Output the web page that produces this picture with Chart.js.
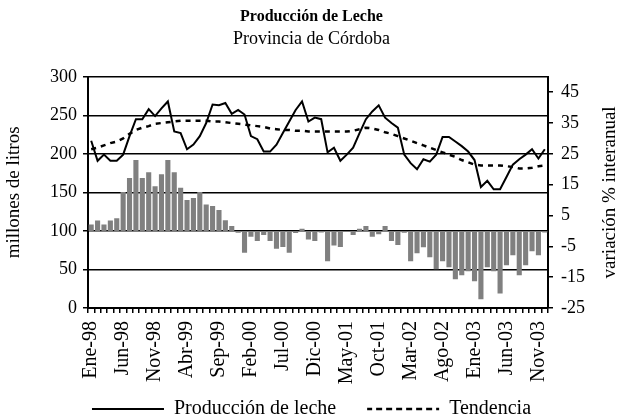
<!DOCTYPE html>
<html>
<head>
<meta charset="utf-8">
<script src="https://cdn.jsdelivr.net/npm/chart.js@4.4.0/dist/chart.umd.min.js"></script>
<style>
  body { margin: 0; background: #fff; }
</style>
</head>
<body>
<canvas id="leche" width="623" height="419"></canvas>
<script>
// meses ene-98 a dic-03
const meses = [
  'Ene-98','Feb-98','Mar-98','Abr-98','May-98','Jun-98','Jul-98','Ago-98','Sep-98','Oct-98','Nov-98','Dic-98',
  'Ene-99','Feb-99','Mar-99','Abr-99','May-99','Jun-99','Jul-99','Ago-99','Sep-99','Oct-99','Nov-99','Dic-99',
  'Ene-00','Feb-00','Mar-00','Abr-00','May-00','Jun-00','Jul-00','Ago-00','Sep-00','Oct-00','Nov-00','Dic-00',
  'Ene-01','Feb-01','Mar-01','Abr-01','May-01','Jun-01','Jul-01','Ago-01','Sep-01','Oct-01','Nov-01','Dic-01',
  'Ene-02','Feb-02','Mar-02','Abr-02','May-02','Jun-02','Jul-02','Ago-02','Sep-02','Oct-02','Nov-02','Dic-02',
  'Ene-03','Feb-03','Mar-03','Abr-03','May-03','Jun-03','Jul-03','Ago-03','Sep-03','Oct-03','Nov-03','Dic-03'
];

// millones de litros
const produccion = [
  217, 191, 199, 191, 191, 199, 223, 245, 245, 258, 249, 259,
  268, 229, 227, 206, 212, 223, 240, 264, 263, 266, 252, 257,
  251, 223, 219, 203, 203, 212, 227, 242, 257, 268, 242, 247,
  245, 202, 208, 191, 199, 208, 227, 245, 255, 263, 247, 240,
  234, 199, 188, 180, 193, 190, 199, 222, 222, 216, 210, 203,
  192, 157, 165, 154, 154, 170, 186, 193, 199, 206, 194, 206
];

const tendencia = [
  206, 208, 211, 214, 216, 220, 226, 231, 234, 236, 239, 240,
  241, 242, 243, 243, 243, 243, 243, 242, 242, 241, 240, 239,
  238, 237, 236, 235, 233, 232, 231, 231, 230, 230, 229, 229,
  229, 229, 229, 229, 229, 230, 232, 234, 233, 231, 228, 226,
  223, 220, 217, 214, 211, 208, 205, 202, 199, 196, 192, 189,
  186, 185, 185, 185, 185, 184, 183, 181, 181, 182, 184, 185
];

// variacion % interanual
const variacion = [
  2.1, 3.4, 2.1, 3.4, 4.1, 12.6, 17.2, 23.0, 17.2, 19.0, 14.5, 18.4,
  23.0, 19.0, 14.0, 10.0, 10.7, 12.6, 8.6, 8.1, 6.8, 3.5, 1.6, -0.6,
  -7.1, -1.9, -3.3, -1.3, -3.3, -5.8, -5.2, -7.1, -0.7, 0.7, -2.8, -3.3,
  -0.5, -9.8, -4.7, -5.2, -0.3, -1.3, 0.7, 1.6, -1.9, -1.1, 1.6, -3.3,
  -4.6, -0.6, -9.8, -7.2, -5.3, -8.5, -12.4, -9.8, -11.8, -15.7, -14.4, -13.1,
  -16.3, -22.2, -11.8, -13.1, -20.3, -11.1, -7.9, -14.4, -11.1, -6.6, -7.9, -0.5
];

const ticksDerecha = [-25, -15, -5, 5, 15, 25, 35, 45];

const serif = "'Liberation Serif', 'Times New Roman', serif";
Chart.defaults.font.family = serif;
Chart.defaults.color = '#000';

const tituloDerecho = {
  id: 'tituloDerecho',
  afterDraw(chart) {
    const ctx = chart.ctx;
    const area = chart.chartArea;
    ctx.save();
    ctx.translate(chart.width - 13, (area.top + area.bottom) / 2);
    ctx.rotate(-Math.PI / 2);
    ctx.font = '19px ' + serif;
    ctx.fillStyle = '#000';
    ctx.textAlign = 'center';
    ctx.textBaseline = 'middle';
    ctx.fillText('variación % interanual', 0, 0);
    ctx.restore();
  }
};

new Chart(document.getElementById('leche'), {
  type: 'bar',
  data: {
    labels: meses,
    datasets: [
      {
        type: 'line',
        label: 'Producción de leche',
        data: produccion,
        yAxisID: 'y',
        borderColor: '#000',
        backgroundColor: 'rgba(0,0,0,0)',
        borderWidth: 2,
        pointRadius: 0,
        tension: 0,
        order: 0
      },
      {
        type: 'line',
        label: 'Tendencia',
        data: tendencia,
        yAxisID: 'y',
        borderColor: '#000',
        backgroundColor: 'rgba(0,0,0,0)',
        borderWidth: 2.5,
        borderDash: [5, 5],
        pointRadius: 0,
        tension: 0,
        order: 1
      },
      {
        label: 'variación',
        data: variacion,
        yAxisID: 'y1',
        backgroundColor: '#808080',
        barPercentage: 0.8,
        categoryPercentage: 1,
        order: 2
      }
    ]
  },
  options: {
    responsive: false,
    animation: false,
    layout: { padding: { left: 0, right: 0, top: 0, bottom: -10 } },
    plugins: {
      tooltip: { enabled: false },
      title: {
        display: true,
        text: 'Producción de Leche',
        font: { size: 16, weight: 'bold' },
        padding: { top: 7, bottom: 0 }
      },
      subtitle: {
        display: true,
        text: 'Provincia de Córdoba',
        font: { size: 18 },
        padding: { top: 2, bottom: 27 }
      },
      legend: {
        position: 'bottom',
        labels: {
          font: { size: 20 },
          boxWidth: 72,
          boxHeight: 0,
          padding: 11,
          generateLabels: chart => {
            const items = Chart.defaults.plugins.legend.labels.generateLabels(chart)
              .filter(item => item.datasetIndex < 2);
            items[0].text += '    ';
            return items;
          }
        }
      }
    },
    scales: {
      x: {
        grid: {
          display: true,
          drawOnChartArea: false,
          color: '#000',
          lineWidth: 1.5,
          tickLength: 5
        },
        border: { display: true, color: '#000', width: 2 },
        ticks: {
          autoSkip: false,
          maxRotation: 90,
          minRotation: 90,
          padding: 8,
          font: { size: 20 },
          callback: function (value, index) {
            return index % 5 === 0 ? meses[index] : '';
          }
        },
        afterFit: scale => { scale.height = 80; }
      },
      y: {
        position: 'left',
        min: 0,
        max: 300,
        z: 1,
        ticks: { stepSize: 50, padding: 6, font: { size: 18 } },
        grid: { color: '#000', lineWidth: 1.5, tickLength: 5 },
        border: { display: true, color: '#000', width: 2 },
        title: {
          display: true,
          text: 'millones de litros',
          font: { size: 19 },
          padding: { top: 3, bottom: 0 }
        },
        afterFit: scale => { scale.width = 88; }
      },
      y1: {
        position: 'right',
        min: -25,
        max: 50,
        afterBuildTicks: scale => {
          scale.ticks = ticksDerecha.map(v => ({ value: v }));
        },
        ticks: { padding: 8, font: { size: 18 } },
        grid: { drawOnChartArea: false, color: '#000', lineWidth: 1.5, tickLength: 5 },
        border: { display: true, color: '#000', width: 2 },
        afterFit: scale => { scale.width = 75; }
      }
    }
  },
  plugins: [tituloDerecho]
});
</script>
</body>
</html>
